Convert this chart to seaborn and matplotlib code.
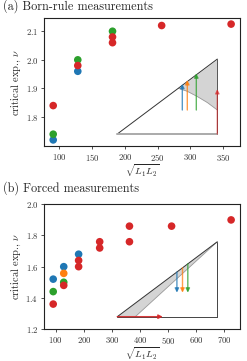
import numpy as np
import pandas as pd
import matplotlib
matplotlib.use("Agg")
import matplotlib.pyplot as plt
import seaborn as sns

# ---- data: (a) Born-rule measurements ----
a_x = [90.5, 90.5, 128, 128, 181, 90.5, 128, 181, 181, 256, 362]
a_nu = [1.72, 1.74, 1.96, 2.00, 2.10, 1.84, 1.98, 2.08, 2.06, 2.12, 2.125]
a_series = ["blue", "green", "blue", "green", "green",
            "red", "red", "red", "red", "red", "red"]

# ---- data: (b) forced measurements ----
b_x = [90.5, 128, 181, 128, 90.5, 128, 90.5, 128, 181, 181, 256, 256, 362, 362, 512, 724]
b_nu = [1.52, 1.60, 1.68, 1.557, 1.44, 1.50, 1.36, 1.48, 1.64, 1.60, 1.76, 1.72, 1.86, 1.76, 1.86, 1.90]
b_series = ["blue", "blue", "blue", "orange", "green", "green",
            "red", "red", "red", "red", "red", "red", "red", "red", "red", "red"]

series_order = ["blue", "orange", "green", "red"]
palette = {"blue": "tab:blue", "orange": "tab:orange", "green": "tab:green", "red": "tab:red"}

# schematic insets (unit triangle coordinates)
a_curve_x = [0.61, 0.70, 0.80, 0.90, 1.00]
a_curve_y = [0.61, 0.57, 0.50, 0.42, 0.32]
a_arrow_x = [0.65, 0.70, 0.79]
b_wedge_start = 0.18
b_arrow_x = [0.596, 0.652, 0.705]

df_a = pd.DataFrame({"x": a_x, "nu": a_nu, "series": a_series})
df_b = pd.DataFrame({"x": b_x, "nu": b_nu, "series": b_series})

sns.set_style("ticks")
plt.rcParams["font.family"] = ["cmr10", "DejaVu Serif"]
plt.rcParams["mathtext.fontset"] = "cm"
plt.rcParams["axes.formatter.use_mathtext"] = True
plt.rcParams["axes.unicode_minus"] = False

fig = plt.figure(figsize=(2.47, 3.61), dpi=100)
ax_a = fig.add_axes([0.1794, 0.5964, 0.7923, 0.3529])
ax_b = fig.add_axes([0.1794, 0.0886, 0.7923, 0.3454])

for ax, df in [(ax_a, df_a), (ax_b, df_b)]:
    sns.scatterplot(data=df, x="x", y="nu", hue="series", hue_order=series_order,
                    palette=palette, s=30, linewidth=0, legend=False, ax=ax, zorder=3)
    ax.set_xlabel(r"$\sqrt{L_1 L_2}$", fontsize=7, labelpad=-0.5)
    ax.set_ylabel(r"critical exp., $\nu$", fontsize=7.5, labelpad=2)
    ax.tick_params(labelsize=6.3, length=2.5, width=0.6, pad=1.8, colors="#333333")
    for sp in ax.spines.values():
        sp.set_linewidth(0.8)
        sp.set_color("#222222")

ax_a.set_xticks([100, 150, 200, 250, 300, 350])
ax_a.set_yticks([1.8, 1.9, 2.0, 2.1])
ax_b.set_ylim(1.2, 2.0)
ax_b.set_xticks([100, 200, 300, 400, 500, 600, 700])
ax_b.set_yticks([1.2, 1.4, 1.6, 1.8, 2.0])

fig.text(0.012, 0.982, "(a) Born-rule measurements", fontsize=8.8, va="center", ha="left")
fig.text(0.012, 0.478, "(b) Forced measurements", fontsize=8.8, va="center", ha="left")

arrow_cols = ["tab:blue", "tab:orange", "tab:green"]

# inset (a)
ia = ax_a.inset_axes([0.373, 0.092, 0.511, 0.588])
ia.set_xlim(0, 1)
ia.set_ylim(0, 1)
ia.axis("off")
ia.fill_between(a_curve_x, a_curve_y, a_curve_x, color="#d4d4d4", lw=0)
ia.plot(a_curve_x, a_curve_y, color="#999999", lw=0.6)
ia.plot([0, 1], [0, 1], color="#333333", lw=0.7, clip_on=False)
ia.plot([1, 1], [0, 1], color="#555555", lw=0.7, clip_on=False)
ia.plot([0, 1], [0, 0], color="#aaaaaa", lw=1.4, clip_on=False)
for xv, c in zip(a_arrow_x, arrow_cols):
    ia.annotate("", xy=(xv, xv + 0.02), xytext=(xv, a_curve_y[-1]),
                arrowprops=dict(arrowstyle="-|>", color=c, lw=1.0, alpha=0.75,
                                mutation_scale=6, shrinkA=0, shrinkB=0))
ia.annotate("", xy=(1.0, 0.6), xytext=(1.0, 0.0),
            arrowprops=dict(arrowstyle="-|>", color="tab:red", lw=1.0, alpha=0.6,
                            mutation_scale=6, shrinkA=0, shrinkB=0))

# inset (b)
ib = ax_b.inset_axes([0.373, 0.099, 0.511, 0.601])
ib.set_xlim(0, 1)
ib.set_ylim(0, 1)
ib.axis("off")
ib.fill([0, b_wedge_start, 1], [0, 0, 1], color="#d4d4d4", lw=0)
ib.plot([b_wedge_start, 1], [0, 1], color="#999999", lw=0.6)
ib.plot([0, 1], [0, 1], color="#333333", lw=0.7, clip_on=False)
ib.plot([1, 1], [0, 1], color="#444444", lw=0.7, clip_on=False)
ib.plot([0, 1], [0, 0], color="#444444", lw=0.7, clip_on=False)
for xv, c in zip(b_arrow_x, arrow_cols):
    ib.annotate("", xy=(xv, 0.32), xytext=(xv, xv),
                arrowprops=dict(arrowstyle="-|>", color=c, lw=1.0, alpha=0.75,
                                mutation_scale=6, shrinkA=0, shrinkB=0))
ib.annotate("", xy=(0.454, 0), xytext=(0, 0),
            arrowprops=dict(arrowstyle="-|>", color="tab:red", lw=1.0, alpha=0.9,
                            mutation_scale=6, shrinkA=0, shrinkB=0))

fig.savefig("out.png", dpi=100)
